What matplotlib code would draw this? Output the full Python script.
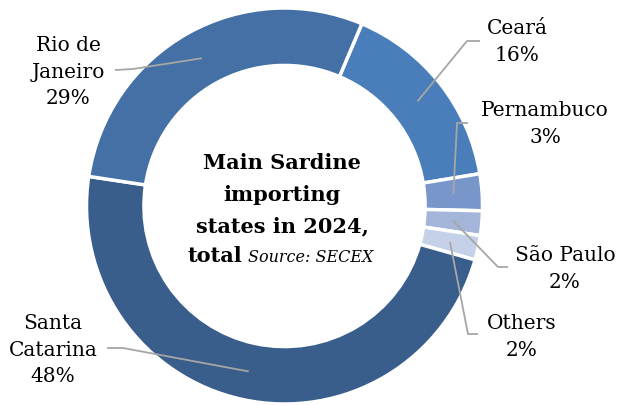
import numpy as np
import matplotlib.pyplot as plt

W, H = 618, 405

# data, clockwise from the top
states = ["Ceará", "Pernambuco", "São Paulo", "Others", "Santa Catarina", "Rio de Janeiro"]
shares = [16, 3, 2, 2, 48, 29]
label_text = ["Ceará\n16%", "Pernambuco\n3%", "São Paulo\n2%", "Others\n2%",
              "Santa\nCatarina\n48%", "Rio de\nJaneiro\n29%"]
colors = ["#4a7ebb", "#7896ca", "#a3b5d9", "#c4d1e8", "#3a5e8c", "#4470a5"]

# layout (pixel coords, y down)
cx, cy = 284.5, 206
r_out = 198
ring = 0.29
label_pos = [(517, 42), (545, 124), (565, 269), (522, 337), (53, 350), (68, 72)]
elbows = [(480, 41, 467, 41), (468, 123, 457, 123), (508, 267, 498, 267),
          (478, 334, 468, 334), (107, 348, 123, 348), (115, 70, 133, 69)]

fig = plt.figure(figsize=(W / 100, H / 100), dpi=100, facecolor="w")
ax = fig.add_axes([0, 0, 1, 1])

start = 67  # degrees, ccw from x axis
wedges, _ = ax.pie(shares, colors=colors, startangle=start, counterclock=False,
                   center=(cx, H - cy), radius=r_out,
                   wedgeprops=dict(width=r_out * ring, edgecolor="white", linewidth=2.5))
ax.set_xlim(0, W)
ax.set_ylim(0, H)
ax.set_aspect("equal")
ax.axis("off")

r_mid = r_out * (1 - ring / 2)
for w, txt, (lx, ly), (ex, ey, kx, ky) in zip(wedges, label_text, label_pos, elbows):
    ang = np.deg2rad((w.theta1 + w.theta2) / 2)
    px = cx + r_mid * np.cos(ang)
    py = H - cy + r_mid * np.sin(ang)
    ax.plot([ex, kx, px], [H - ey, H - ky, py], color="#a6a6a6", lw=1.3,
            solid_capstyle="butt")
    ax.text(lx, H - ly, txt, ha="center", va="center", fontsize=14.5,
            family="DejaVu Serif", linespacing=1.5, color="black")

tfont = dict(family="DejaVu Serif", fontsize=15, fontweight="bold", color="black")
ax.text(282, H - 169, "Main Sardine", ha="center", va="baseline", **tfont)
ax.text(282, H - 201, "importing", ha="center", va="baseline", **tfont)
ax.text(282, H - 232, "states in 2024,", ha="center", va="baseline", **tfont)
ax.text(242, H - 262, "total", ha="right", va="baseline", **tfont)
ax.text(248, H - 262, "Source: SECEX", ha="left", va="baseline", family="DejaVu Serif",
        fontsize=11.5, style="italic", color="black")

fig.savefig("out.png", dpi=100, facecolor="w")
